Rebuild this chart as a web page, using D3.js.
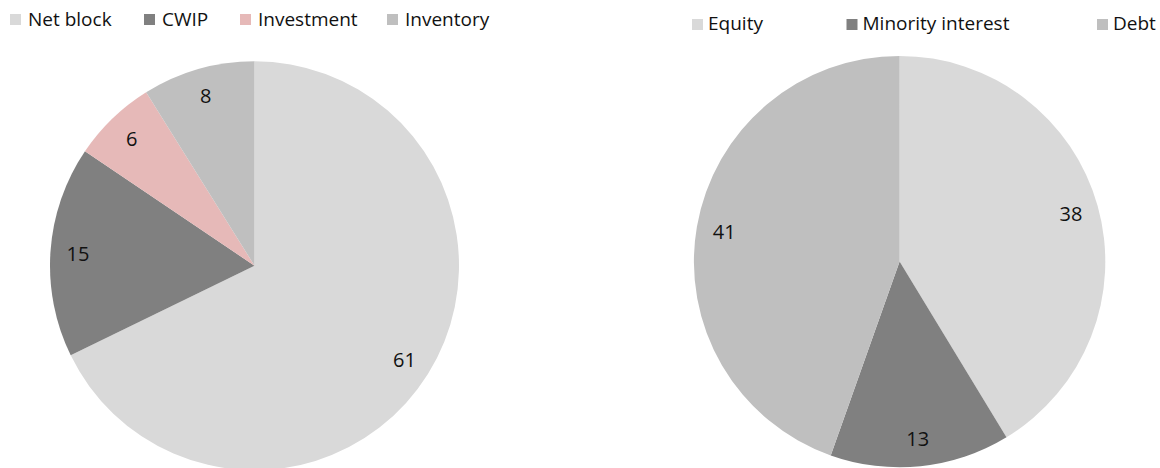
<!DOCTYPE html>
<html>
<head>
<meta charset="utf-8">
<script src="https://cdn.jsdelivr.net/npm/d3@7"></script>
<style>
  html, body { margin: 0; padding: 0; background: #fff; }
  svg { display: block; }
  text { font-family: "Open Sans", "Noto Sans", sans-serif; fill: #111; }
</style>
</head>
<body>
<svg id="chart" width="1160" height="468"></svg>
<script>
// ---- data ----
const assetCategories = ["Net block", "CWIP", "Investment", "Inventory"];
const assetValues = [61, 15, 6, 8];
const assetColors = ["#D9D9D9", "#808080", "#E6B9B8", "#BFBFBF"];

const liabCategories = ["Equity", "Minority interest", "Debt"];
const liabValues = [38, 13, 41];
const liabColors = ["#D9D9D9", "#808080", "#BFBFBF"];

// ---- layout ----
const svg = d3.select("#chart");
const legendFont = 19;
const labelFont = 20;

const panels = [
  { cats: assetCategories, vals: assetValues, cols: assetColors,
    cx: 254.5, cy: 265.7, r: 204.5,
    legendX: [28, 162, 258, 405], legendY: 25.7, sqGap: 18, sqTop: 14 },
  { cats: liabCategories, vals: liabValues, cols: liabColors,
    cx: 899.6, cy: 261.6, r: 205.7,
    legendX: [708, 862.5, 1113], legendY: 30, sqGap: 16, sqTop: 19 }
];

panels.forEach(p => {
  const data = p.cats.map((c, i) => ({ cat: c, val: p.vals[i], col: p.cols[i] }));
  const pie = d3.pie().sort(null).value(d => d.val);
  const arcs = pie(data);
  const arc = d3.arc().innerRadius(0).outerRadius(p.r);
  const labelArc = d3.arc().innerRadius(p.r * 0.865).outerRadius(p.r * 0.865);

  const g = svg.append("g").attr("transform", `translate(${p.cx},${p.cy})`);
  g.selectAll("path").data(arcs).enter().append("path")
    .attr("d", arc)
    .attr("fill", d => d.data.col);

  g.selectAll("text.lbl").data(arcs).enter().append("text")
    .attr("class", "lbl")
    .attr("transform", d => `translate(${labelArc.centroid(d)})`)
    .attr("text-anchor", "middle")
    .attr("dy", "0.36em")
    .style("font-size", labelFont + "px")
    .text(d => d.data.val);

  // legend
  const lg = svg.append("g");
  data.forEach((d, i) => {
    const x = p.legendX[i];
    lg.append("rect")
      .attr("x", x - p.sqGap).attr("y", p.sqTop)
      .attr("width", 11).attr("height", 11)
      .attr("fill", d.col);
    lg.append("text")
      .attr("x", x).attr("y", p.legendY)
      .style("font-size", legendFont + "px")
      .text(d.cat);
  });
});
</script>
</body>
</html>
